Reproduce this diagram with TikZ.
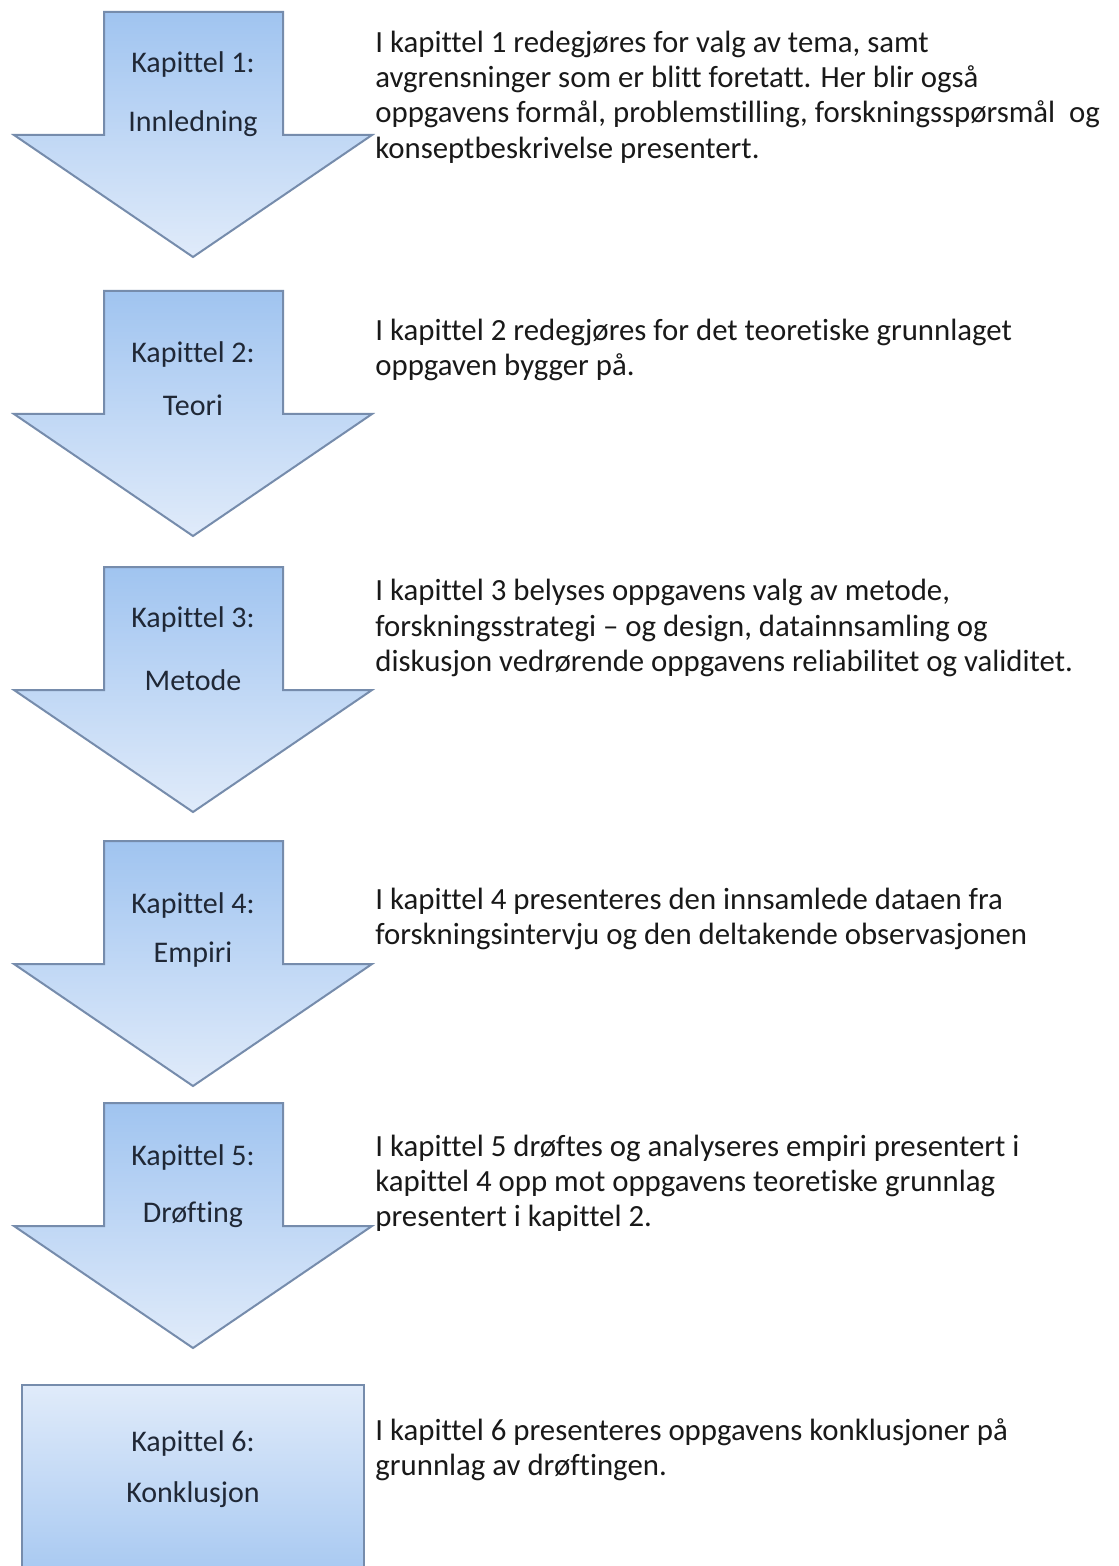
\documentclass[tikz,border=0pt]{standalone}
\usepackage{fontspec}
\setmainfont{Carlito}[Ligatures={TeX,CommonOff}]

\definecolor{arrowtop}{RGB}{160,196,240}
\definecolor{arrowbot}{RGB}{224,235,250}
\definecolor{arrowline}{RGB}{118,140,172}
\definecolor{labeltext}{RGB}{32,40,54}

\tikzset{
  chapterarrow/.style={draw=arrowline, line width=1pt, line join=miter, top color=arrowtop, bottom color=arrowbot},
  chapterbox/.style={draw=arrowline, line width=1pt, top color=arrowbot, bottom color=arrowtop},
  chaplabel/.style={inner sep=0pt, text=labeltext, font=\fontsize{15}{18}\selectfont},
  desc/.style={anchor=west, align=left, inner sep=0pt, text=black!90, font=\fontsize{15.4}{17.6}\selectfont}
}

\begin{document}
\begin{tikzpicture}[x=0.5pt, y=-0.5pt]
    \useasboundingbox (0,0) rectangle (1118,1566);
    \clip (0,0) rectangle (1118,1566);
    \fill[white] (0,0) rectangle (1118,1566);

    % chapters 1-5 as block arrows
    \foreach \ytop/\ka/\kb/\num/\title in {12/53/112/1/Innledning, 291/64/114/2/Teori, 567/53/113/3/Metode, 841/64/114/4/Empiri, 1103/54/112/5/Drøfting}{
        \draw[chapterarrow] (104,\ytop) -- (283,\ytop) -- (283,\ytop+123) -- (372,\ytop+123)
            -- (193,\ytop+245) -- (14,\ytop+123) -- (104,\ytop+123) -- cycle;
        \node[chaplabel] (kap\num) at (193,\ytop+\ka) {Kapittel \num:};
        \node[chaplabel] (title\num) at (193,\ytop+\kb) {\title};
    }

    % chapter 6, cut off at the bottom
    \draw[chapterbox] (22,1385) rectangle (364,1600);
    \node[chaplabel] (kap6) at (193,1443) {Kapittel 6:};
    \node[chaplabel] (title6) at (193,1495) {Konklusjon};

    % descriptions
    \node[desc] (desc1) at (375,97) {I kapittel 1 redegjøres for valg av tema, samt\\avgrensninger som er blitt foretatt. Her blir også\\oppgavens formål, problemstilling, forskningsspørsmål\ \ og\\konseptbeskrivelse presentert.};
    \node[desc] (desc2) at (375,350) {I kapittel 2 redegjøres for det teoretiske grunnlaget\\oppgaven bygger på.};
    \node[desc] (desc3) at (375,628) {I kapittel 3 belyses oppgavens valg av metode,\\forskningsstrategi – og design, datainnsamling og\\diskusjon vedrørende oppgavens reliabilitet og validitet.};
    \node[desc] (desc4) at (375,919) {I kapittel 4 presenteres den innsamlede dataen fra\\forskningsintervju og den deltakende observasjonen};
    \node[desc] (desc5) at (375,1183) {I kapittel 5 drøftes og analyseres empiri presentert i\\kapittel 4 opp mot oppgavens teoretiske grunnlag\\presentert i kapittel 2.};
    \node[desc] (desc6) at (375,1450) {I kapittel 6 presenteres oppgavens konklusjoner på\\grunnlag av drøftingen.};
\end{tikzpicture}
\end{document}
